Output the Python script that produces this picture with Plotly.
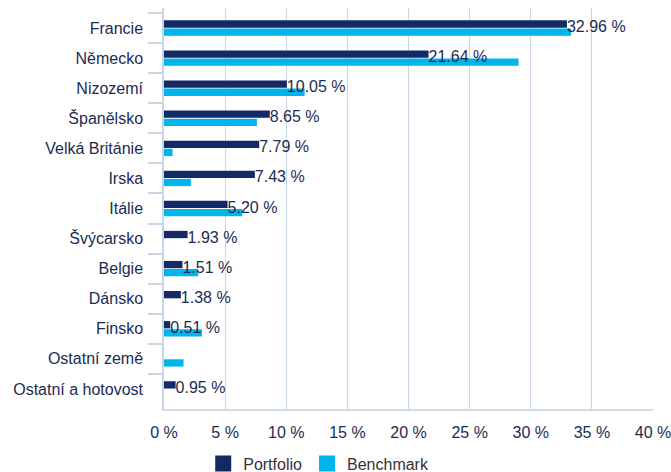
import plotly.graph_objects as go

countries = ["Francie", "Německo", "Nizozemí", "Španělsko", "Velká Británie", "Irska",
             "Itálie", "Švýcarsko", "Belgie", "Dánsko", "Finsko", "Ostatní země",
             "Ostatní a hotovost"]
portfolio = [32.96, 21.64, 10.05, 8.65, 7.79, 7.43, 5.20, 1.93, 1.51, 1.38, 0.51, 0.0, 0.95]
benchmark = [33.3, 29.0, 11.5, 7.6, 0.7, 2.2, 6.4, 0.0, 2.8, 0.0, 3.1, 1.6, 0.0]
x_ticks = [0, 5, 10, 15, 20, 25, 30, 35, 40]

navy = "#142a66"
cyan = "#00b5ec"
txt = "#1d2b52"
font = "Liberation Sans, Arial, sans-serif"

labels = [f"{v:.2f} %" if v > 0 else "" for v in portfolio]

fig = go.Figure()
fig.add_trace(go.Bar(
    y=countries, x=portfolio, orientation="h", name="Portfolio",
    marker=dict(color=navy, line=dict(width=0)), showlegend=False,
))
fig.add_trace(go.Bar(
    y=countries, x=benchmark, orientation="h", name="Benchmark",
    marker=dict(color=cyan, line=dict(width=0)), showlegend=False,
))
fig.add_trace(go.Scatter(
    y=countries, x=portfolio, mode="text", text=labels, textposition="middle right",
    textfont=dict(color=txt, size=16, family=font), showlegend=False,
    cliponaxis=False, hoverinfo="skip",
))
# legend entries with larger square swatches
fig.add_trace(go.Scatter(
    x=[None], y=[None], mode="markers", name="Portfolio",
    marker=dict(symbol="square", size=16, color=navy),
))
fig.add_trace(go.Scatter(
    x=[None], y=[None], mode="markers", name="Benchmark",
    marker=dict(symbol="square", size=16, color=cyan),
))

fig.update_layout(
    width=671, height=472,
    margin=dict(l=164, r=18, t=8, b=63, autoexpand=False),
    paper_bgcolor="white", plot_bgcolor="white",
    barmode="group", bargap=0.46, bargroupgap=0.1,
    font=dict(family=font, size=16, color=txt),
    showlegend=True,
    legend=dict(orientation="h", xref="container", yref="container",
                x=0.475, xanchor="center", y=0.018, yanchor="middle",
                bgcolor="rgba(0,0,0,0)",
                font=dict(size=16, color="#333333"), traceorder="normal",
                itemwidth=30),
)
fig.update_xaxes(
    range=[0, 40], tickvals=x_ticks, ticktext=[f"{v} %" for v in x_ticks],
    showgrid=True, gridcolor="#c9d6e8", gridwidth=1.3,
    zeroline=False, showline=True, linecolor="#d3dbe6", linewidth=1.5,
    ticks="", ticklabelstandoff=8, tickfont=dict(size=16, color=txt),
    ticklabeloverflow="allow", automargin=False,
)
fig.update_yaxes(
    categoryorder="array", categoryarray=countries, autorange="reversed",
    showgrid=False, showline=True, linecolor="#c9d6e8", linewidth=1.5,
    ticks="outside", tickson="boundaries", ticklen=14, tickcolor="#c9d6e8", tickwidth=1.5,
    ticklabelstandoff=16, tickfont=dict(size=16, color=txt),
    automargin=False,
)

fig.write_html("out.html", config={"displayModeBar": False},
               post_script="document.body.style.margin='0px';")
